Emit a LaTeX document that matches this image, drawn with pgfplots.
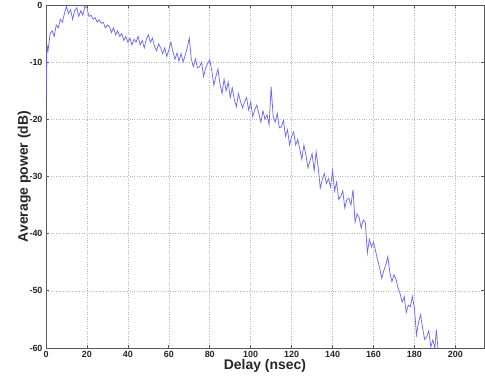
\documentclass[border=0pt]{standalone}
\usepackage{pgfplots}
\pgfplotsset{compat=1.18}
\usepackage{fontspec}
\setmainfont{Liberation Sans}
\definecolor{mblue}{rgb}{0.42,0.42,0.97}
\begin{document}
\begin{tikzpicture}
\begin{axis}[
  at={(0,0)}, anchor=south west,
  scale only axis, width=438bp, height=343bp,
  xmin=0, xmax=214, ymin=-60, ymax=0,
  xtick={0,20,...,200}, ytick={-60,-50,...,0},
  grid=major,
  major grid style={dotted, line width=0.6pt, color=black!28},
  axis line style={color=black!65, line width=0.9pt},
  tick style={color=black!65, line width=0.7pt},
  tick align=inside, major tick length=3bp,
  xtick pos=both, ytick pos=both,
  /pgf/number format/assume math mode=true,
  ticklabel style={font=\fontsize{9}{10}\selectfont\bfseries, text=black!85},
  xlabel={Delay (nsec)}, ylabel={Average power (dB)},
  label style={font=\fontsize{14}{16}\selectfont\bfseries, text=black!85, inner sep=0pt},
  xlabel style={at={(axis description cs:0.5,0)}, anchor=north, yshift=-11bp},
  ylabel style={at={(axis description cs:0,0.5)}, anchor=south, yshift=15bp},
]
\addplot[color=mblue, line width=0.75pt, mark=none] coordinates {
(0,-17) (0.5,-7) (1,-8) (2,-5) (3,-4.5) (4,-5.5) (5,-3.5) (6,-4) (7,-2.5) (8,-3) (9,-1.5)
(10,-0.2) (11,-1.5) (12,-0.8) (13,-2.5) (14,-1) (15,-0.5) (16,-2) (17,-1) (18,-1.8) (19,-0.2)
(20,-0.5) (21,-2) (22,-1.8) (23,-2.5) (24,-2.2) (25,-3) (26,-2.6) (27,-3.2) (28,-3) (29,-4)
(30,-3.5) (31,-3.8) (32,-4.8) (33,-4) (34,-5.2) (35,-4.5) (36,-5.5) (37,-5) (38,-6.2) (39,-5.5)
(40,-6.5) (41,-5.8) (42,-7) (43,-6) (44,-6.5) (45,-5.5) (46,-7) (47,-6.2) (48,-7.5) (49,-6)
(50,-5.2) (51,-6.5) (52,-5.8) (53,-7.2) (54,-8) (55,-6.8) (56,-7.5) (57,-8.5) (58,-7.5) (59,-9)
(60,-7.9) (61,-6.5) (62,-8.2) (63,-9.5) (64,-8.4) (65,-9.8) (66,-8.5) (67,-10) (68,-8.8) (69,-7.5)
(70,-5.8) (71,-9.5) (72,-10.8) (73,-9.4) (74,-11) (75,-10.8) (76,-10) (77,-12.5) (78,-11) (79,-10.2)
(80,-9.6) (81,-11.5) (82,-14) (83,-12.5) (84,-11.2) (85,-13.8) (86,-15.5) (87,-13) (88,-15) (89,-13.5)
(90,-16.2) (91,-14.5) (92,-16.5) (93,-17.8) (94,-15.5) (95,-16.8) (96,-18) (97,-17) (98,-16.2) (99,-18.4)
(100,-17) (101,-19.5) (102,-18.3) (103,-17.5) (104,-19) (105,-20.5) (106,-18.5) (107,-20) (108,-19.2) (109,-21)
(110,-14.3) (111,-19.5) (112,-20.5) (113,-19) (114,-21.5) (115,-21.3) (116,-20.2) (117,-23) (118,-21.8) (119,-24.5)
(120,-23) (121,-22.2) (122,-24.5) (123,-23.5) (124,-25.2) (125,-27) (126,-24.5) (127,-26.3) (128,-28.5) (129,-27.2)
(130,-26) (131,-29) (132,-25.7) (133,-28.5) (134,-32) (135,-30.5) (136,-29.5) (137,-31.2) (138,-30.4) (139,-31.8)
(140,-29) (141,-32.5) (142,-31) (143,-34) (144,-33.5) (145,-32.5) (146,-35.5) (147,-34) (148,-33.8) (149,-35)
(150,-32.3) (151,-38) (152,-36.5) (153,-37.2) (154,-39) (155,-37.6) (156,-38) (157,-43.4) (158,-41) (159,-42.3)
(160,-41.5) (161,-43) (162,-44.5) (163,-46) (164,-47.8) (165,-46.5) (166,-45.5) (167,-44) (168,-46.8) (169,-48.4)
(170,-47.2) (171,-48) (172,-49.5) (173,-50.5) (174,-52) (175,-51) (176,-53.8) (177,-52.5) (178,-52.8) (179,-51)
(180,-53) (181,-57.7) (182,-55.5) (183,-54.2) (184,-56.5) (185,-58.5) (186,-58) (187,-57) (188,-59.8) (189,-58.6)
(190,-60) (190.7,-56.8) (191.5,-60)
};
\end{axis}
\pgfresetboundingbox
\path[use as bounding box] (-46bp,-32bp) rectangle (439bp,348bp);
\end{tikzpicture}
\end{document}
